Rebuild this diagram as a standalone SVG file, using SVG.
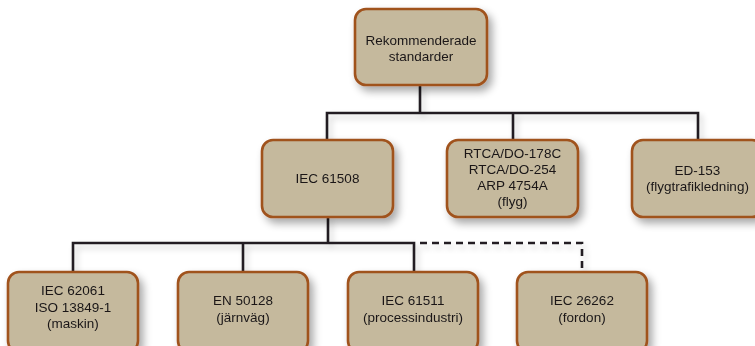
<svg xmlns="http://www.w3.org/2000/svg" width="755" height="346" viewBox="0 0 755 346">
  <defs>
    <filter id="shadow" x="-20%" y="-20%" width="150%" height="160%">
      <feGaussianBlur in="SourceAlpha" stdDeviation="4"/>
      <feOffset dx="4" dy="5" result="blur"/>
      <feComponentTransfer><feFuncA type="linear" slope="0.35"/></feComponentTransfer>
      <feMerge><feMergeNode/><feMergeNode in="SourceGraphic"/></feMerge>
    </filter>
    <filter id="lineShadow" x="-10%" y="-50%" width="120%" height="300%">
      <feGaussianBlur in="SourceAlpha" stdDeviation="3"/>
      <feOffset dx="3" dy="4"/>
      <feComponentTransfer><feFuncA type="linear" slope="0.2"/></feComponentTransfer>
      <feMerge><feMergeNode/><feMergeNode in="SourceGraphic"/></feMerge>
    </filter>
  </defs>
  <style>
    .box { fill: #c5b99d; stroke: #a0521f; stroke-width: 2.6; }
    .lbl { font-family: "Liberation Sans", Arial, sans-serif; font-size: 13.5px; fill: #1a1718; text-anchor: middle; }
    .wire { fill: none; stroke: #231f20; stroke-width: 2.6; stroke-linecap: square; }
    .dash { stroke-dasharray: 7 5; stroke-linecap: butt; }
  </style>
  <rect width="755" height="346" fill="#ffffff"/>

  <g id="connectors" filter="url(#lineShadow)">
    <path class="wire" d="M420 85 V113 M327 113 H698 M327 113 V140 M513 113 V140 M698 113 V140"/>
    <path class="wire" d="M328 217 V243 M73 243 H414 M73 243 V272 M243 243 V272 M414 243 V272"/>
    <path class="wire dash" d="M420 243 H582 V272"/>
  </g>

  <g id="rekommenderade" filter="url(#shadow)">
    <rect class="box" x="355" y="9" width="132" height="76" rx="11"/>
    <text class="lbl" x="421" y="44.5">Rekommenderade</text>
    <text class="lbl" x="421" y="60.5">standarder</text>
  </g>

  <g id="iec61508" filter="url(#shadow)">
    <rect class="box" x="262" y="140" width="131" height="77" rx="11"/>
    <text class="lbl" x="327.5" y="182.5">IEC 61508</text>
  </g>

  <g id="rtca" filter="url(#shadow)">
    <rect class="box" x="447" y="140" width="131" height="77" rx="11"/>
    <text class="lbl" x="512.5" y="158">RTCA/DO-178C</text>
    <text class="lbl" x="512.5" y="174">RTCA/DO-254</text>
    <text class="lbl" x="512.5" y="190">ARP 4754A</text>
    <text class="lbl" x="512.5" y="206">(flyg)</text>
  </g>

  <g id="ed153" filter="url(#shadow)">
    <rect class="box" x="632" y="140" width="131" height="77" rx="11"/>
    <text class="lbl" x="697.5" y="174.5">ED-153</text>
    <text class="lbl" x="697.5" y="190.5">(flygtrafikledning)</text>
  </g>

  <g id="iec62061" filter="url(#shadow)">
    <rect class="box" x="8" y="272" width="130" height="80" rx="11"/>
    <text class="lbl" x="73" y="295">IEC 62061</text>
    <text class="lbl" x="73" y="311.5">ISO 13849-1</text>
    <text class="lbl" x="73" y="328">(maskin)</text>
  </g>

  <g id="en50128" filter="url(#shadow)">
    <rect class="box" x="178" y="272" width="130" height="80" rx="11"/>
    <text class="lbl" x="243" y="305">EN 50128</text>
    <text class="lbl" x="243" y="321.5">(järnväg)</text>
  </g>

  <g id="iec61511" filter="url(#shadow)">
    <rect class="box" x="348" y="272" width="130" height="80" rx="11"/>
    <text class="lbl" x="413" y="305">IEC 61511</text>
    <text class="lbl" x="413" y="321.5">(processindustri)</text>
  </g>

  <g id="iec26262" filter="url(#shadow)">
    <rect class="box" x="517" y="272" width="130" height="80" rx="11"/>
    <text class="lbl" x="582" y="305">IEC 26262</text>
    <text class="lbl" x="582" y="321.5">(fordon)</text>
  </g>
</svg>
